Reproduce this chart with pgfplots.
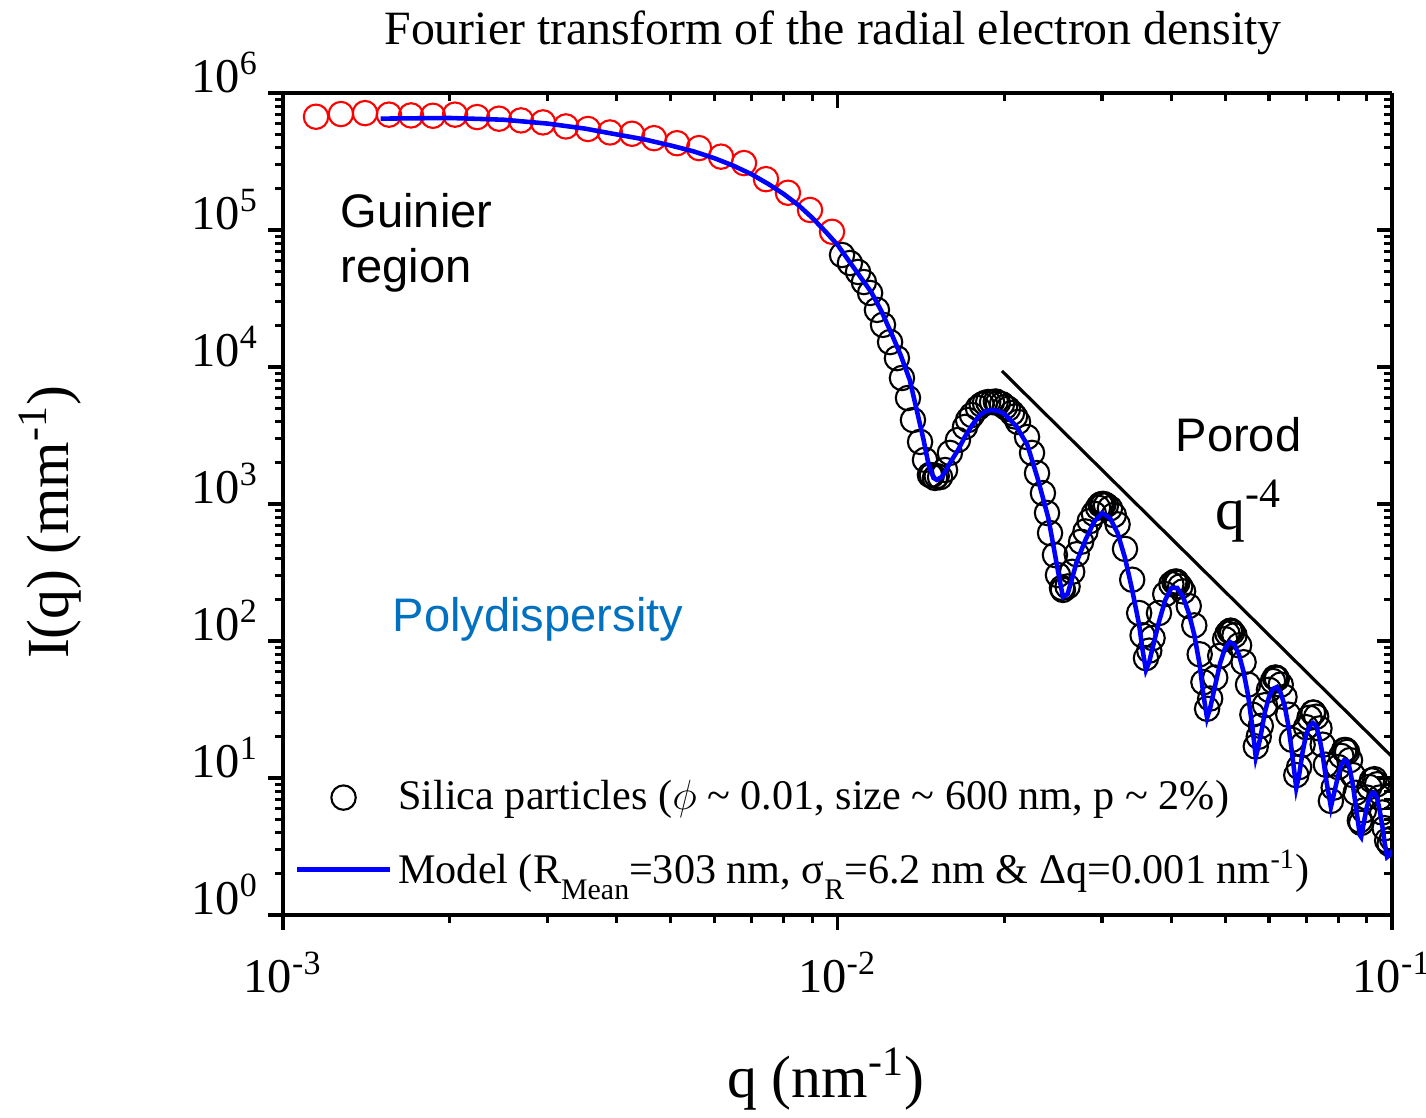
\documentclass[border=0pt]{standalone}
\usepackage{pgfplots}
\pgfplotsset{compat=1.18}
\usepackage{fontspec}
\setmainfont{Liberation Serif}
\newfontfamily\arial{Liberation Sans}
\definecolor{polyblue}{RGB}{0,112,192}
\newcommand{\sus}[1]{\textsuperscript{#1}}
\newcommand{\sbs}[1]{\raisebox{-0.38em}{\fontsize{8.5}{9}\selectfont #1}}
\pgfplotsset{
  myaxis/.style={
    at={(28.3mm,20.3mm)}, anchor=south west,
    width=110.9mm, height=82.2mm, scale only axis,
    xmin=1e-3, xmax=1e-1, ymin=1, ymax=1e6,
    xtick={1e-3,1e-2,1e-1},
    ytick={1,10,100,1000,10000,100000,1000000},
    minor xtick={0.002,0.003,0.004,0.005,0.006,0.007,0.008,0.009,0.02,0.03,0.04,0.05,0.06,0.07,0.08,0.09},
    minor ytick={2,3,4,5,6,7,8,9,20,30,40,50,60,70,80,90,200,300,400,500,600,700,800,900,2000,3000,4000,5000,6000,7000,8000,9000,20000,30000,40000,50000,60000,70000,80000,90000,200000,300000,400000,500000,600000,700000,800000,900000},
    major tick length=1.5mm, minor tick length=0.8mm,
    every tick/.style={black, line width=0.9pt},
    axis line style={line width=0.9pt},
  }
}
\begin{document}
\begin{tikzpicture}
\useasboundingbox (0,0) rectangle (142.6mm,111.8mm);
% frame with inward ticks on top and right
\begin{loglogaxis}[myaxis, axis x line*=top, axis y line*=right, tick align=inside,
  xticklabels={}, yticklabels={}]
\end{loglogaxis}
\begin{loglogaxis}[myaxis, axis x line*=bottom, axis y line*=left, tick align=outside,
  clip marker paths=true,
  xticklabels={10\sus{-3},10\sus{-2},10\sus{-1}},
  yticklabels={10\sus{0},10\sus{1},10\sus{2},10\sus{3},10\sus{4},10\sus{5},10\sus{6}},
  xticklabel style={font=\fontsize{13.8}{16}\selectfont, anchor=base, yshift=-6.3mm},
  yticklabel style={font=\fontsize{13.8}{16}\selectfont, anchor=base east, xshift=0.3mm},
  title={Fourier transform of the radial electron density},
  title style={at={(axis description cs:0.496,1.033)}, anchor=base, inner sep=0pt, font=\fontsize{13.6}{16}\selectfont},
  xlabel={q (nm\sus{-1})},
  xlabel style={at={(axis description cs:0.4896,-0.2226)}, anchor=base, inner sep=0pt, font=\fontsize{17}{20}\selectfont},
  ylabel={I(q) (mm\sus{-1})},
  ylabel style={at={(axis description cs:-0.193,0.478)}, anchor=base, inner sep=0pt, font=\fontsize{17}{20}\selectfont},
  legend style={at={(axis description cs:0.0100,0.172)}, anchor=north west, draw=none, fill=none,
    font=\fontsize{12}{14}\selectfont, row sep=2.3mm, inner sep=0pt, nodes={inner sep=0.6mm}},
  legend cell align=left,
  legend image code/.code={\draw[mark repeat=2,mark phase=2,#1] plot coordinates {(0mm,0mm) (4.65mm,0mm) (9.3mm,0mm)};},
]
% red circles (Guinier region)
\addplot[only marks, mark=o, mark size=1.22mm, red, mark options={line width=0.6pt}, forget plot] coordinates {
(1.030e-3,1.08e6) (1.147e-3,6.71e5) (1.272e-3,7.02e5) (1.406e-3,7.13e5) (1.553e-3,6.95e5)
(1.702e-3,6.86e5) (1.864e-3,6.82e5) (2.043e-3,6.95e5) (2.239e-3,6.67e5) (2.452e-3,6.49e5)
(2.687e-3,6.31e5) (2.944e-3,6.10e5) (3.238e-3,5.70e5) (3.548e-3,5.46e5) (3.888e-3,5.15e5)
(4.260e-3,5.04e5) (4.668e-3,4.68e5) (5.136e-3,4.30e5) (5.626e-3,3.96e5) (6.166e-3,3.43e5)
(6.783e-3,3.08e5) (7.431e-3,2.35e5) (8.141e-3,1.87e5) (8.921e-3,1.40e5) (9.775e-3,9.70e4)
};
% black circles (data)
\addplot[only marks, mark=o, mark size=1.22mm, black, mark options={line width=0.6pt}] coordinates {
(0.01019,6.57e4) (0.01053,5.74e4) (0.01089,4.94e4) (0.01116,4.17e4) (0.01145,3.47e4)
(0.01178,2.61e4) (0.01208,2.03e4) (0.01244,1.52e4) (0.01280,1.16e4) (0.01307,8.31e3)
(0.01340,5.94e3) (0.01368,4.10e3) (0.01409,2.84e3) (0.01438,2.10e3) (0.01468,1.63e3)
(0.01480,1.62e3) (0.01499,1.55e3) (0.01510,1.60e3) (0.01531,1.57e3) (0.01563,1.77e3)
(0.01595,2.36e3) (0.01649,2.93e3) (0.01698,3.65e3) (0.01720,4.10e3) (0.01748,4.46e3)
(0.01792,5.02e3) (0.01820,5.30e3) (0.01845,5.46e3) (0.01870,5.55e3) (0.01900,5.55e3)
(0.01930,5.60e3) (0.01947,5.46e3) (0.01980,5.35e3) (0.02005,5.11e3) (0.02030,4.95e3)
(0.02064,4.62e3) (0.02090,4.35e3) (0.02116,3.97e3) (0.02197,3.08e3) (0.02243,2.36e3)
(0.02290,1.68e3) (0.02347,1.20e3) (0.02387,8.60e2) (0.02417,6.14e2) (0.02467,4.24e2)
(0.02498,3.03e2) (0.02540,2.44e2)
(0.0255,2.36e2) (0.0260,2.5e2) (0.0265,3.2e2) (0.0270,4.3e2) (0.0275,5.3e2)
(0.0280,6.3e2) (0.0285,7.5e2) (0.0290,8.5e2) (0.0295,9.4e2) (0.0298,9.9e2)
(0.0300,1.0e3) (0.0302,1.0e3) (0.0305,9.8e2) (0.0310,9.3e2) (0.0315,8.3e2)
(0.0320,7.1e2) (0.0330,4.7e2) (0.0340,2.8e2) (0.0350,1.6e2) (0.0355,1.1e2)
(0.0360,7.5e1) (0.0365,8.5e1) (0.0370,1.05e2) (0.0380,1.6e2) (0.0390,2.2e2)
(0.0400,2.6e2) (0.0405,2.7e2) (0.0408,2.72e2) (0.0410,2.65e2) (0.0415,2.5e2)
(0.0420,2.3e2) (0.0430,1.8e2) (0.0440,1.3e2) (0.0450,8.0e1) (0.0457,5.0e1)
(0.0464,3.2e1) (0.0470,3.8e1) (0.0480,5.4e1) (0.0490,7.8e1) (0.0500,1.03e2)
(0.0505,1.13e2) (0.0510,1.18e2) (0.0512,1.19e2) (0.0515,1.16e2) (0.0520,1.1e2)
(0.0530,9.3e1) (0.0540,7.0e1) (0.0550,4.8e1) (0.0560,2.9e1) (0.0568,1.7e1)
(0.0575,2.0e1) (0.0580,2.4e1) (0.0590,3.4e1) (0.0600,4.4e1) (0.0610,5.1e1)
(0.0615,5.4e1) (0.0618,5.4e1) (0.0620,5.3e1) (0.0630,4.8e1) (0.0640,3.9e1)
(0.0650,2.9e1) (0.0660,1.9e1) (0.0672,1.05e1) (0.0680,1.2e1) (0.0690,1.75e1)
(0.0700,2.35e1) (0.0710,2.75e1) (0.0720,3.0e1) (0.0722,3.0e1) (0.0730,2.8e1)
(0.0740,2.3e1) (0.0750,1.75e1) (0.0760,1.25e1) (0.0776,6.8) (0.0785,8.5)
(0.0800,1.2e1) (0.0810,1.45e1) (0.0820,1.6e1) (0.0825,1.6e1) (0.0830,1.55e1)
(0.0840,1.35e1) (0.0850,1.05e1) (0.0860,7.8) (0.0875,4.9) (0.0880,4.7)
(0.0890,5.8) (0.0900,7.2) (0.0910,8.6) (0.0920,9.6) (0.0930,9.8)
(0.0940,9.0) (0.0950,7.2) (0.0960,5.6) (0.0970,4.3) (0.0980,3.5)
(0.0990,3.3) (0.1000,3.6) (0.1010,4.5)
};
\addlegendentry{Silica particles ($\phi$ \textasciitilde{} 0.01, size \textasciitilde{} 600 nm, p \textasciitilde{} 2\%)}
% model
\addplot[blue, line width=1.3pt] coordinates {
(0.0015,6.50e5) (0.002,6.57e5) (0.0025,6.38e5) (0.003,5.98e5) (0.0035,5.50e5)
(0.004,4.98e5) (0.0045,4.57e5) (0.005,4.14e5) (0.0055,3.75e5) (0.006,3.34e5)
(0.0065,2.94e5) (0.007,2.55e5) (0.0075,2.17e5) (0.008,1.83e5) (0.0085,1.52e5)
(0.009,1.23e5) (0.0095,9.8e4) (0.010,7.8e4) (0.0105,5.9e4) (0.011,4.54e4)
(0.0115,3.53e4) (0.012,2.56e4) (0.0125,1.77e4) (0.013,1.22e4) (0.0135,8.04e3)
(0.014,4.25e3) (0.0143,2.93e3) (0.0146,1.93e3) (0.0149,1.55e3) (0.0151,1.50e3)
(0.0154,1.57e3) (0.0157,1.77e3) (0.016,2.03e3) (0.0165,2.48e3) (0.017,3.13e3)
(0.0175,3.77e3) (0.018,4.39e3) (0.0185,4.77e3) (0.019,4.85e3) (0.0195,4.77e3)
(0.020,4.54e3) (0.021,3.71e3) (0.022,2.70e3) (0.023,1.50e3) (0.024,7.91e2)
(0.0245,5.02e2) (0.025,3.19e2) (0.0255,2.10e2) (0.026,2.20e2) (0.0265,2.88e2)
(0.027,3.78e2) (0.028,5.46e2) (0.029,7.39e2) (0.030,8.59e2) (0.031,7.91e2)
(0.032,6.14e2) (0.033,4.04e2) (0.034,2.36e2) (0.035,1.31e2) (0.0355,8.59e1)
(0.036,6.14e1) (0.0365,7.03e1) (0.037,8.89e1) (0.038,1.38e2) (0.039,1.99e2)
(0.040,2.44e2) (0.041,2.44e2) (0.042,2.10e2) (0.043,1.60e2) (0.044,1.11e2)
(0.045,6.68e1) (0.0457,4.04e1) (0.0464,2.74e1) (0.047,3.24e1) (0.048,4.77e1)
(0.049,6.90e1) (0.050,8.89e1) (0.051,9.84e1) (0.052,9.35e1) (0.053,7.91e1)
(0.054,5.94e1) (0.055,4.04e1) (0.056,2.36e1) (0.0568,1.42e1) (0.0575,1.74e1)
(0.058,2.06e1) (0.059,3.03e1) (0.060,3.90e1) (0.061,4.47e1) (0.062,4.61e1)
(0.063,4.17e1) (0.064,3.41e1) (0.065,2.44e1) (0.066,1.55e1) (0.0672,8.45)
(0.068,1.05e1) (0.069,1.55e1) (0.070,2.06e1) (0.071,2.40e1) (0.072,2.52e1)
(0.073,2.40e1) (0.074,1.96e1) (0.075,1.47e1) (0.076,1.00e1) (0.0776,6.14)
(0.0785,7.52) (0.080,1.05e1) (0.081,1.25e1) (0.082,1.35e1) (0.083,1.33e1)
(0.084,1.14e1) (0.085,8.89) (0.086,6.35) (0.0875,3.84) (0.088,3.71)
(0.089,4.77) (0.090,6.04) (0.091,7.14) (0.092,7.78) (0.093,7.78)
(0.094,7.14) (0.095,5.83) (0.096,4.54) (0.097,3.36) (0.098,2.65)
(0.099,2.74) (0.100,2.98)
};
\addlegendentry{Model (R\sbs{Mean}=303 nm, σ\sbs{R}=6.2 nm \& Δq=0.001 nm\textsuperscript{-1})}
% Porod q^-4 guide line
\addplot[black, line width=0.9pt, forget plot] coordinates {(0.0198,9350) (0.1,14.3)};
% annotations
\node[anchor=base west, inner sep=0pt, font=\arial\fontsize{13.4}{16}\selectfont] at (axis description cs:0.0514,0.8358) {Guinier};
\node[anchor=base west, inner sep=0pt, font=\arial\fontsize{13.4}{16}\selectfont] at (axis description cs:0.0514,0.7689) {region};
\node[anchor=base west, inner sep=0pt, font=\arial\fontsize{13.4}{16}\selectfont] at (axis description cs:0.8043,0.5633) {Porod};
\node[anchor=base west, inner sep=0pt, font=\fontsize{17}{20}\selectfont] at (axis description cs:0.8404,0.4684) {q\sus{-4}};
\node[anchor=base west, inner sep=0pt, text=polyblue, font=\arial\fontsize{13.4}{16}\selectfont] at (axis description cs:0.0983,0.3443) {Polydispersity};
\end{loglogaxis}
\end{tikzpicture}
\end{document}
